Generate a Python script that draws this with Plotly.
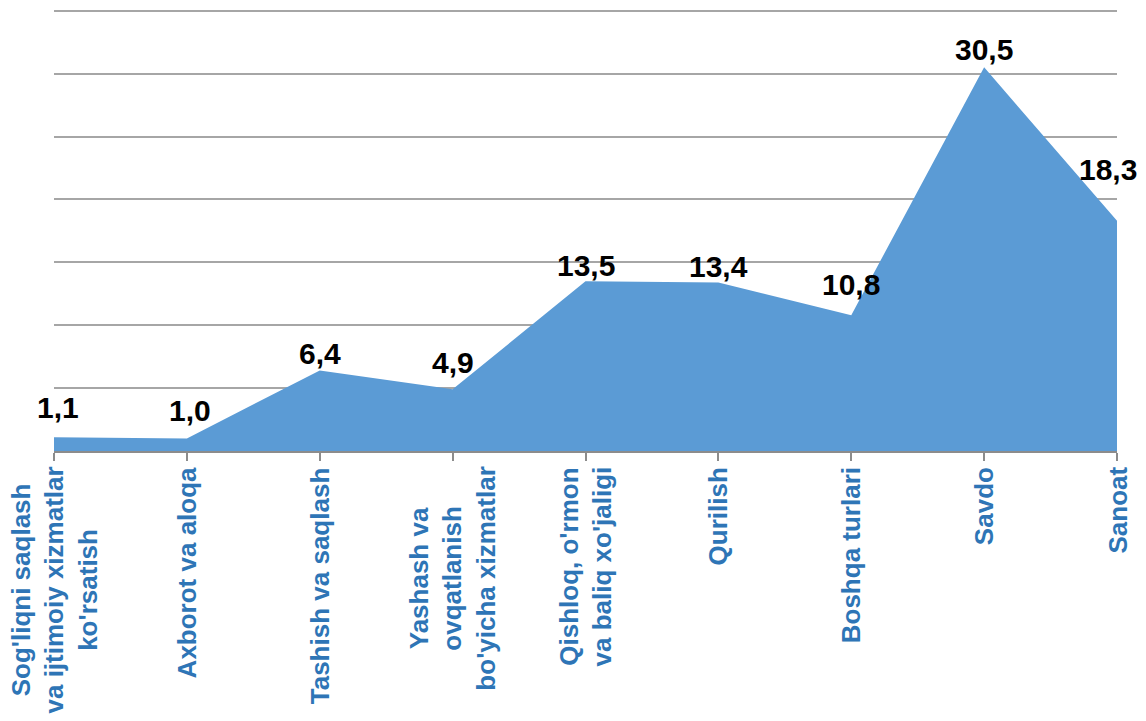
import plotly.graph_objects as go

categories = [
    "Sog'liqni saqlash<br>va ijtimoiy xizmatlar<br>ko'rsatish",
    "Axborot va aloqa",
    "Tashish va saqlash",
    "Yashash va<br>ovqatlanish<br>bo'yicha xizmatlar",
    "Qishloq, o'rmon<br>va baliq xo'jaligi",
    "Qurilish",
    "Boshqa turlari",
    "Savdo",
    "Sanoat",
]
values = [1.1, 1.0, 6.4, 4.9, 13.5, 13.4, 10.8, 30.5, 18.3]
value_labels = ["1,1", "1,0", "6,4", "4,9", "13,5", "13,4", "10,8", "30,5", "18,3"]

# label placement styles (pixel shifts)
label_yshift = [30, 28, 17, 27, 16, 16, 31, 18, 51]
label_xshift = [4, 3, 0, 0, 0, 0, 0, 0, -9]

FONT = "Liberation Sans, Arial, sans-serif"
xs = list(range(len(categories)))

fig = go.Figure()
fig.add_trace(go.Scatter(
    x=xs, y=values, mode="lines", fill="tozeroy",
    fillcolor="#5B9BD5", line=dict(width=0, color="#5B9BD5"),
    hoverinfo="skip", showlegend=False,
))

annotations = []
for i, (v, t) in enumerate(zip(values, value_labels)):
    annotations.append(dict(
        x=xs[i], y=v, xref="x", yref="y", text="<b>" + t + "</b>",
        showarrow=False, xanchor="center", yanchor="middle",
        yshift=label_yshift[i], xshift=label_xshift[i],
        font=dict(family=FONT, size=30, color="#000000"),
    ))
for i, c in enumerate(categories):
    annotations.append(dict(
        x=xs[i], y=0, xref="x", yref="paper", text="<b>" + c + "</b>",
        showarrow=False, xanchor="center", yanchor="top", yshift=-14,
        textangle=-90, align="center",
        font=dict(family=FONT, size=26, color="#2E75B6"),
    ))

fig.update_layout(
    width=1146, height=721,
    margin=dict(l=54, r=29, t=7, b=270),
    paper_bgcolor="white", plot_bgcolor="white",
    annotations=annotations,
    xaxis=dict(
        range=[0, len(categories) - 1], tickvals=xs, showticklabels=False,
        ticks="outside", ticklen=8, tickcolor="#8C8C8C", tickwidth=1.5,
        showline=True, linecolor="#8C8C8C", linewidth=1.5,
        showgrid=False, zeroline=False,
    ),
    yaxis=dict(
        range=[0, 35.3], dtick=5, tick0=0, showticklabels=False,
        showgrid=True, gridcolor="#A6A6A6", gridwidth=1.5,
        zeroline=False, showline=False,
    ),
)

fig.write_html("out.html", config={"displayModeBar": False},
               post_script="document.body.style.margin='0px';")
